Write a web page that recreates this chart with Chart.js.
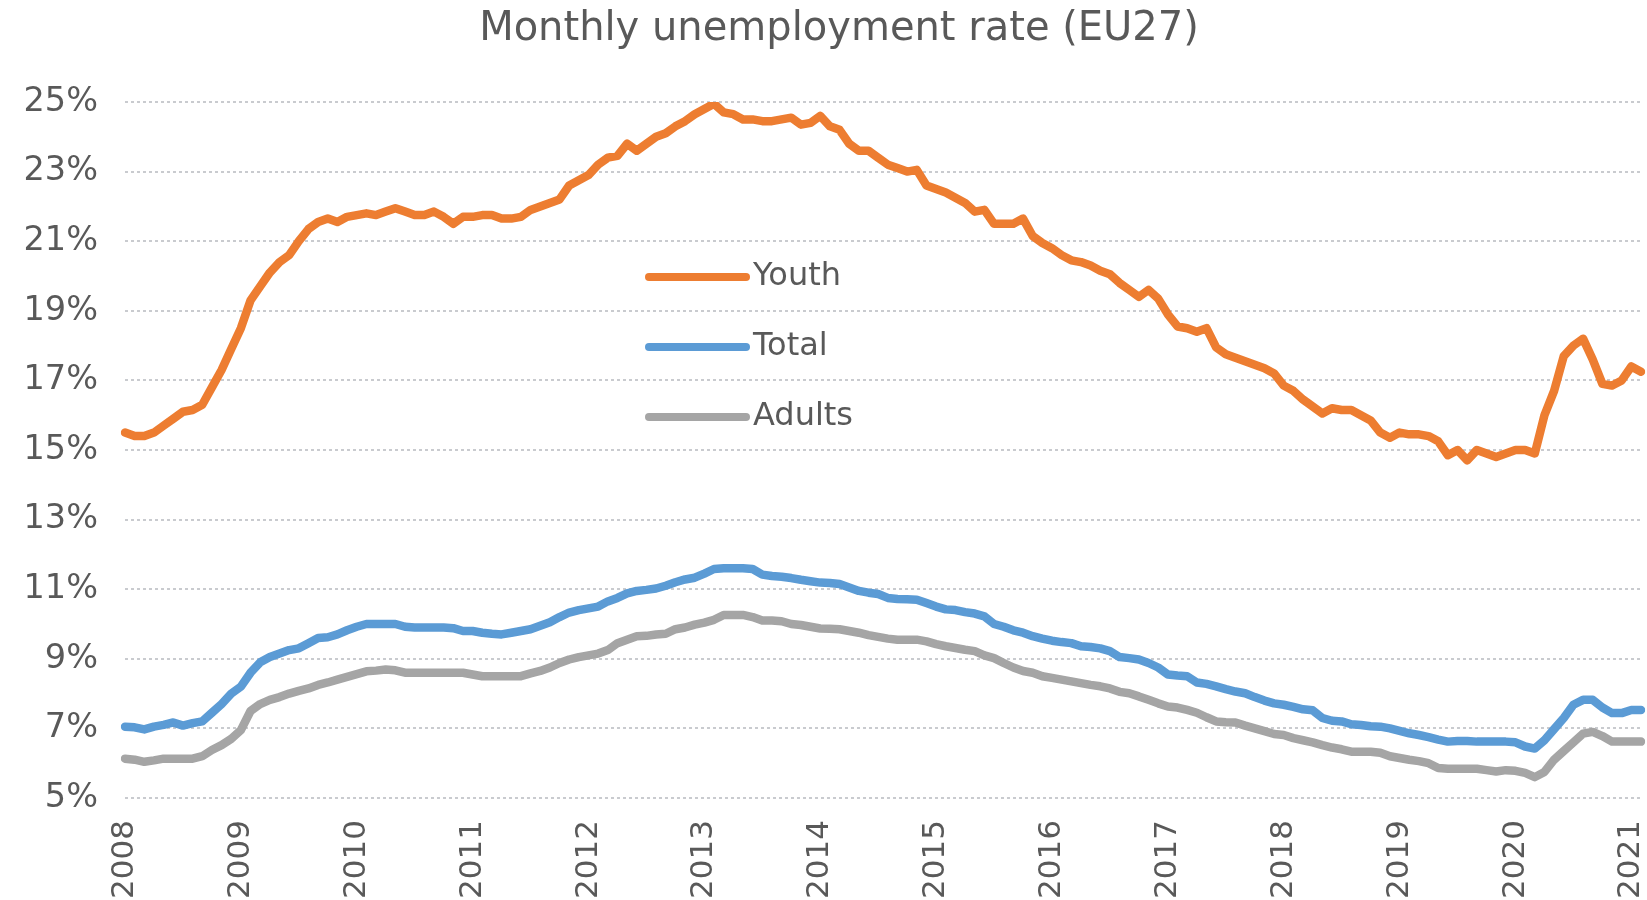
<!DOCTYPE html>
<html>
<head>
<meta charset="utf-8">
<script src="https://cdn.jsdelivr.net/npm/chart.js@4"></script>
<style>
  html, body { margin: 0; padding: 0; background: #fff; }
</style>
</head>
<body>
<canvas id="rateChart" width="1647" height="900"></canvas>
<script>
// monthly values, Jan 2008 .. Feb 2021 (%)
const startYear = 2008;

const youth = [
  15.5, 15.4, 15.4, 15.5, 15.7, 15.9, 16.1, 16.15, 16.3, 16.8, 17.3, 17.9,
  18.5, 19.3, 19.7, 20.1, 20.4, 20.6, 21.0, 21.35, 21.55, 21.65, 21.55, 21.7,
  21.75, 21.8, 21.75, 21.85, 21.95, 21.85, 21.75, 21.75, 21.85, 21.7, 21.5, 21.7,
  21.7, 21.75, 21.75, 21.65, 21.65, 21.7, 21.9, 22.0, 22.1, 22.2, 22.6, 22.75,
  22.9, 23.2, 23.4, 23.45, 23.8, 23.6, 23.8, 24.0, 24.1, 24.3, 24.45, 24.65,
  24.8, 24.95, 24.7, 24.65, 24.5, 24.5, 24.45, 24.45, 24.5, 24.55, 24.35, 24.4,
  24.6, 24.3, 24.2, 23.8, 23.6, 23.6, 23.4, 23.2, 23.1, 23.0, 23.05, 22.6,
  22.5, 22.4, 22.25, 22.1, 21.85, 21.9, 21.5, 21.5, 21.5, 21.65, 21.15, 20.95,
  20.8, 20.6, 20.45, 20.4, 20.3, 20.15, 20.05, 19.8, 19.6, 19.4, 19.6, 19.35,
  18.9, 18.55, 18.5, 18.4, 18.5, 17.95, 17.75, 17.65, 17.55, 17.45, 17.35, 17.2,
  16.85, 16.7, 16.45, 16.25, 16.05, 16.2, 16.15, 16.15, 16.0, 15.85, 15.5, 15.35,
  15.5, 15.45, 15.45, 15.4, 15.25, 14.85, 15.0, 14.7, 15.0, 14.9, 14.8, 14.9,
  15.0, 15.0, 14.9, 16.0, 16.7, 17.7, 18.0, 18.2, 17.6, 16.9, 16.85, 17.0,
  17.4, 17.25
];

const total = [
  7.05, 7.03, 6.97, 7.05, 7.1, 7.17, 7.08, 7.15, 7.2, 7.45, 7.7, 8.0,
  8.2, 8.6, 8.9, 9.05, 9.15, 9.25, 9.3, 9.45, 9.6, 9.62, 9.7, 9.82,
  9.92, 10.0, 10.0, 10.0, 10.0, 9.92, 9.9, 9.9, 9.9, 9.9, 9.88, 9.8,
  9.8, 9.75, 9.72, 9.7, 9.75, 9.8, 9.85, 9.95, 10.05, 10.2, 10.33, 10.4,
  10.45, 10.5, 10.65, 10.75, 10.88, 10.95, 10.98, 11.02, 11.1, 11.2, 11.28, 11.33,
  11.45, 11.58, 11.6, 11.6, 11.6, 11.58, 11.42, 11.38, 11.36, 11.32, 11.27, 11.23,
  11.19, 11.18, 11.15, 11.05, 10.95, 10.9, 10.86, 10.75, 10.72, 10.71, 10.7, 10.6,
  10.5, 10.42, 10.4, 10.34, 10.3, 10.22, 10.0, 9.92, 9.82, 9.75, 9.65, 9.58,
  9.52, 9.48, 9.45, 9.36, 9.34, 9.3, 9.22, 9.05, 9.02, 8.98, 8.88, 8.75,
  8.55, 8.52, 8.5, 8.32, 8.28, 8.21, 8.13, 8.06, 8.01, 7.9, 7.8, 7.72,
  7.68, 7.62, 7.55, 7.52, 7.3, 7.22, 7.2, 7.12, 7.1, 7.06, 7.05, 7.0,
  6.93, 6.86, 6.81, 6.75, 6.68, 6.62, 6.64, 6.64, 6.62, 6.62, 6.62, 6.62,
  6.6, 6.48, 6.42, 6.66, 6.98, 7.3, 7.68, 7.82, 7.82, 7.6, 7.44, 7.44,
  7.53, 7.53
];

const adults = [
  6.13, 6.1, 6.04, 6.08, 6.13, 6.13, 6.13, 6.13, 6.2, 6.38, 6.52, 6.7,
  6.95, 7.5, 7.7, 7.82, 7.9, 8.0, 8.08, 8.15, 8.25, 8.32, 8.4, 8.48,
  8.56, 8.64, 8.66, 8.69, 8.67, 8.6, 8.6, 8.6, 8.6, 8.6, 8.6, 8.6,
  8.55, 8.5, 8.5, 8.5, 8.5, 8.5, 8.58, 8.65, 8.75, 8.88, 8.98, 9.05,
  9.1, 9.15, 9.25, 9.45, 9.55, 9.65, 9.66, 9.7, 9.72, 9.85, 9.9, 9.98,
  10.04, 10.12, 10.26, 10.26, 10.26, 10.2, 10.1, 10.1, 10.08, 10.0, 9.97, 9.92,
  9.87, 9.86, 9.85, 9.8, 9.75, 9.68, 9.63, 9.58, 9.55, 9.55, 9.55, 9.5,
  9.42, 9.36, 9.31, 9.26, 9.22, 9.1, 9.02, 8.88, 8.75, 8.65, 8.6, 8.5,
  8.45, 8.4, 8.35, 8.3, 8.25, 8.21, 8.15, 8.05, 8.01, 7.92, 7.82, 7.72,
  7.63, 7.6, 7.53, 7.45, 7.32, 7.2, 7.18, 7.17, 7.08, 7.0, 6.92, 6.84,
  6.81, 6.72, 6.66, 6.6, 6.52, 6.45, 6.4, 6.33, 6.33, 6.33, 6.3, 6.2,
  6.15, 6.1, 6.06, 6.0, 5.86, 5.84, 5.84, 5.84, 5.84, 5.8, 5.76, 5.8,
  5.78, 5.72, 5.6, 5.75, 6.1, 6.35, 6.6, 6.85, 6.9, 6.78, 6.62, 6.62,
  6.62, 6.62
];

// "2008-01", "2008-02", ...
const months = youth.map((_, i) => {
  const y = startYear + Math.floor(i / 12);
  const m = String((i % 12) + 1).padStart(2, "0");
  return y + "-" + m;
});

const chartTitle = "Monthly unemployment rate (EU27)";
const textGrey = "#595959";
const fontFamily = "'DejaVu Sans', Verdana, sans-serif";

// title sits a little right of the canvas centre in the original
const titleText = {
  id: "titleText",
  afterDraw(chart) {
    const { ctx } = chart;
    ctx.save();
    ctx.font = "40px " + fontFamily;
    ctx.fillStyle = textGrey;
    ctx.textAlign = "center";
    ctx.textBaseline = "middle";
    ctx.fillText(chartTitle, 839, 30);
    ctx.restore();
  }
};

// legend drawn inside the plot, like the original
const insideLegend = {
  id: "insideLegend",
  afterDatasetsDraw(chart) {
    const { ctx, chartArea } = chart;
    ctx.save();
    ctx.font = "32px " + fontFamily;
    ctx.textBaseline = "middle";
    ctx.lineCap = "round";
    chart.data.datasets.forEach((ds, i) => {
      const x = chartArea.left + 524;
      const y = chartArea.top + 175 + i * 70;
      ctx.strokeStyle = ds.borderColor;
      ctx.lineWidth = 8;
      ctx.beginPath();
      ctx.moveTo(x, y);
      ctx.lineTo(x + 97, y);
      ctx.stroke();
      ctx.fillStyle = textGrey;
      ctx.fillText(ds.label, x + 104, y);
    });
    ctx.restore();
  }
};

const lineStyle = {
  borderWidth: 8.5,
  pointRadius: 0,
  tension: 0,
  fill: false,
  borderJoinStyle: "round",
  borderCapStyle: "round"
};

new Chart(document.getElementById("rateChart"), {
  type: "line",
  data: {
    labels: months,
    datasets: [
      { label: "Youth", data: youth, borderColor: "#ED7D31", ...lineStyle },
      { label: "Total", data: total, borderColor: "#5B9BD5", ...lineStyle },
      { label: "Adults", data: adults, borderColor: "#A5A5A5", ...lineStyle }
    ]
  },
  options: {
    responsive: false,
    animation: false,
    layout: { padding: { left: 0, right: 6, top: 102, bottom: 0 } },
    plugins: {
      legend: { display: false },
      tooltip: { enabled: false },
      title: { display: false }
    },
    scales: {
      x: {
        grid: { display: false },
        border: { display: false },
        afterFit: (scale) => {
          scale.height = 102;
          scale.paddingLeft = 0;
          scale.paddingRight = 0;
        },
        ticks: {
          autoSkip: false,
          minRotation: 90,
          maxRotation: 90,
          padding: 14,
          color: textGrey,
          font: { family: fontFamily, size: 31 },
          callback: function (value) {
            const l = this.getLabelForValue(value);
            return l.endsWith("-01") ? l.slice(0, 4) : "";
          }
        }
      },
      y: {
        min: 5,
        max: 25,
        afterFit: (scale) => {
          scale.width = 125;
          scale.paddingTop = 0;
        },
        border: { display: false, dash: [3, 3] },
        grid: {
          color: "#c9cbcf",
          lineWidth: 2,
          drawTicks: false
        },
        ticks: {
          stepSize: 2,
          padding: 27,
          color: textGrey,
          font: { family: fontFamily, size: 33.5 },
          callback: (v) => v + "%"
        }
      }
    }
  },
  plugins: [insideLegend, titleText]
});
</script>
</body>
</html>
